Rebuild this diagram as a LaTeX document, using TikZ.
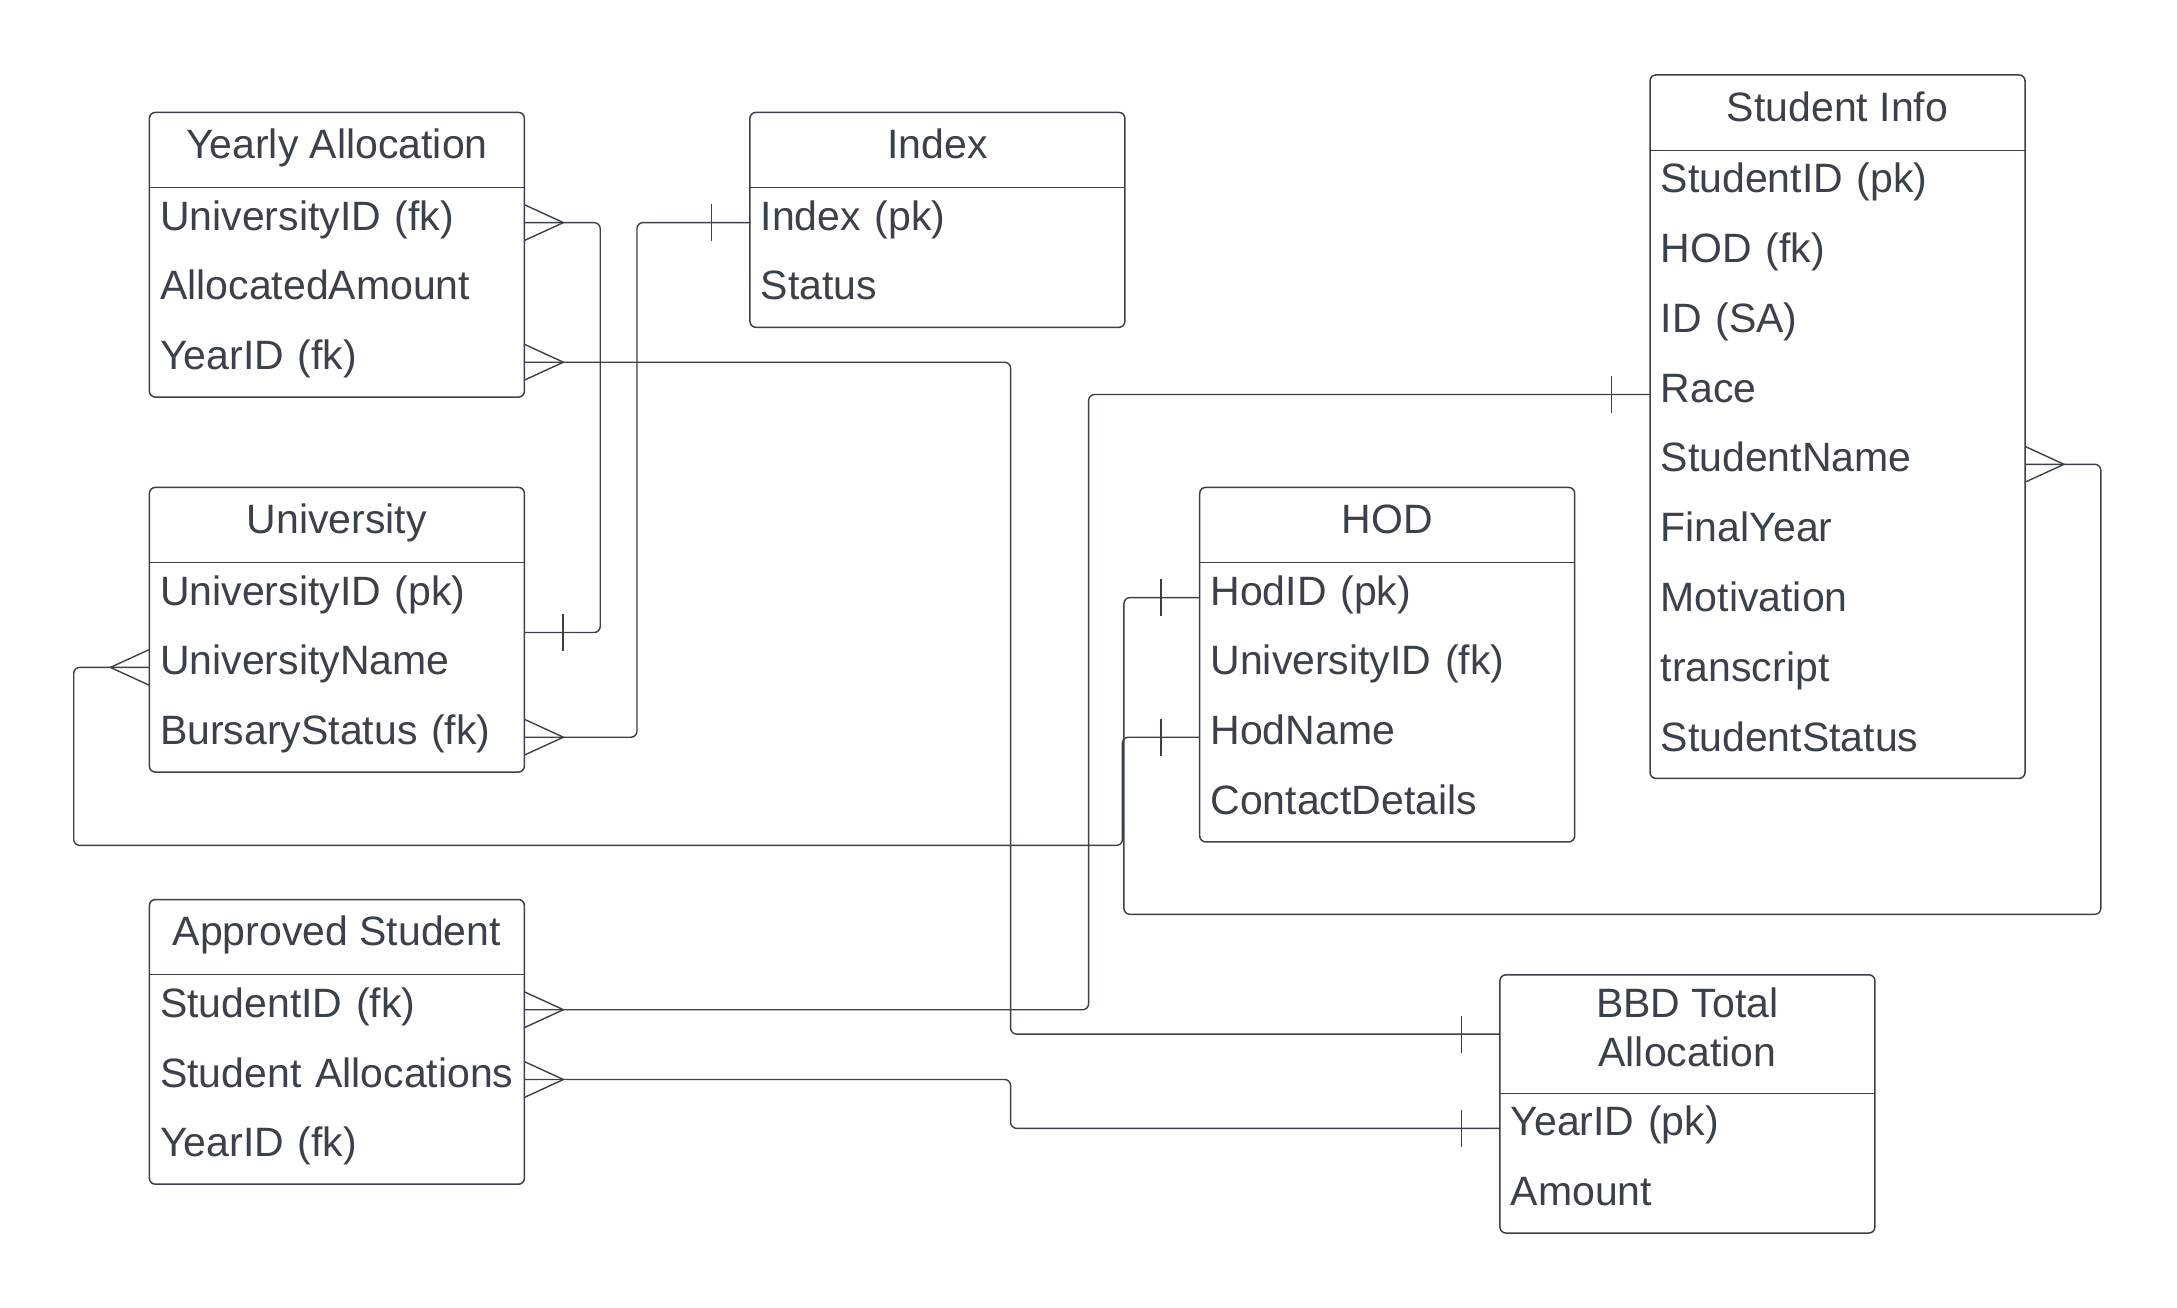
\documentclass[tikz,border=0pt]{standalone}
\usepackage{fontspec}
\setmainfont{Liberation Sans}
\usetikzlibrary{positioning}
\definecolor{erink}{HTML}{3A414A}

\tikzset{
	crow/.pic={\draw[erink,line width=1.4pt] (0,17.9) -- (39,0) -- (0,-17.9);},
	onebar/.pic={\draw[erink,line width=1.4pt] (38.6,18.5) -- (38.6,-18.5);}
}

\begin{document}
\begin{tikzpicture}
	[x=1pt,y=1pt,
	head/.style={minimum width=374.6pt,minimum height=74.9pt,inner sep=0pt,
		text height=29pt,text depth=12pt,anchor=north west},
	field/.style={minimum width=374.6pt,minimum height=69.4pt,inner xsep=10.6pt,inner ysep=0pt,
		text width=353.4pt,align=left,text height=29pt,text depth=14pt},
	box/.style={draw=erink,line width=1.5pt,rounded corners=6pt},
	conn/.style={draw=erink,line width=1.4pt,rounded corners=6pt}]
	\tikzstyle{every node}=[text=erink,font=\fontsize{41}{49.3}\selectfont]
	\useasboundingbox (0,0) rectangle (2177,-1307);

	% entities
	\node[head] (ya) at (149.4,-112.4) {Yearly Allocation};
	\node[field,below=0pt of ya] (ya1) {UniversityID (fk)};
	\node[field,below=0pt of ya1] (ya2) {AllocatedAmount};
	\node[field,below=0pt of ya2] (ya3) {YearID (fk)};

	\node[head] (idx) at (749.9,-112.4) {Index};
	\node[field,below=0pt of idx] (idx1) {Index (pk)};
	\node[field,below=0pt of idx1] (idx2) {Status};

	\node[head] (uni) at (149.4,-487.4) {University};
	\node[field,below=0pt of uni] (uni1) {UniversityID (pk)};
	\node[field,below=0pt of uni1] (uni2) {UniversityName};
	\node[field,below=0pt of uni2] (uni3) {BursaryStatus (fk)};

	\node[head] (hod) at (1199.7,-487.4) {HOD};
	\node[field,below=0pt of hod] (hod1) {HodID (pk)};
	\node[field,below=0pt of hod1] (hod2) {UniversityID (fk)};
	\node[field,below=0pt of hod2] (hod3) {HodName};
	\node[field,below=0pt of hod3] (hod4) {ContactDetails};

	\node[head] (si) at (1650,-74.9) {Student Info};
	\node[field,below=0pt of si] (si1) {StudentID (pk)};
	\node[field,below=0pt of si1] (si2) {HOD (fk)};
	\node[field,below=0pt of si2] (si3) {ID (SA)};
	\node[field,below=0pt of si3] (si4) {Race};
	\node[field,below=0pt of si4] (si5) {StudentName};
	\node[field,below=0pt of si5] (si6) {FinalYear};
	\node[field,below=0pt of si6] (si7) {Motivation};
	\node[field,below=0pt of si7] (si8) {transcript};
	\node[field,below=0pt of si8] (si9) {StudentStatus};

	\node[head] (as) at (149.4,-899.5) {Approved Student};
	\node[field,below=0pt of as] (as1) {StudentID (fk)};
	\node[field,below=0pt of as1] (as2) {Student Allocations};
	\node[field,below=0pt of as2] (as3) {YearID (fk)};

	\node[head,minimum height=118.2pt,align=center,text height=78.7pt,text depth=13.3pt]
		(bbd) at (1499.9,-974.8) {BBD Total\\Allocation};
	\node[field,below=0pt of bbd] (bbd1) {YearID (pk)};
	\node[field,below=0pt of bbd1] (bbd2) {Amount};

	\foreach \e/\last in {ya/ya3,idx/idx2,uni/uni3,hod/hod4,si/si9,as/as3,bbd/bbd2}{
		\draw[box] (\e.north west) rectangle (\last.south east);
		\draw[erink,line width=1.1pt] (\e.south west) -- (\e.south east);
	}

	% relationships
	\coordinate (bendU) at (1122.4,-845.4);
	\coordinate (bendS) at (1123.9,-914.3);
	\draw[conn] (ya1.east) -- ++(75.8,0) |- (uni1.south east);
	\draw[conn] (idx1.west) -- ++(-112.9,0) |- (uni3.east);
	\draw[conn] (ya3.east) -- ++(486.2,0) |- (bbd.west);
	\draw[conn] (uni2.west) -- ++(-75.7,0) |- (bendU) |- (hod3.west);
	\draw[conn] (si4.west) -- ++(-561.4,0) |- (as1.east);
	\draw[conn] (si5.east) -- ++(75.8,0) |- (bendS) |- (hod1.west);
	\draw[conn] (as2.east) -- ++(486.2,0) |- (bbd1.west);

	\pic at (ya1.east) {crow};
	\pic at (ya3.east) {crow};
	\pic at (uni3.east) {crow};
	\pic at (si5.east) {crow};
	\pic at (as1.east) {crow};
	\pic at (as2.east) {crow};
	\pic[xscale=-1] at (uni2.west) {crow};
	\pic at (uni1.south east) {onebar};
	\pic[xscale=-1] at (idx1.west) {onebar};
	\pic[xscale=-1] at (bbd.west) {onebar};
	\pic[xscale=-1] at (hod1.west) {onebar};
	\pic[xscale=-1] at (hod3.west) {onebar};
	\pic[xscale=-1] at (si4.west) {onebar};
	\pic[xscale=-1] at (bbd1.west) {onebar};
\end{tikzpicture}
\end{document}
